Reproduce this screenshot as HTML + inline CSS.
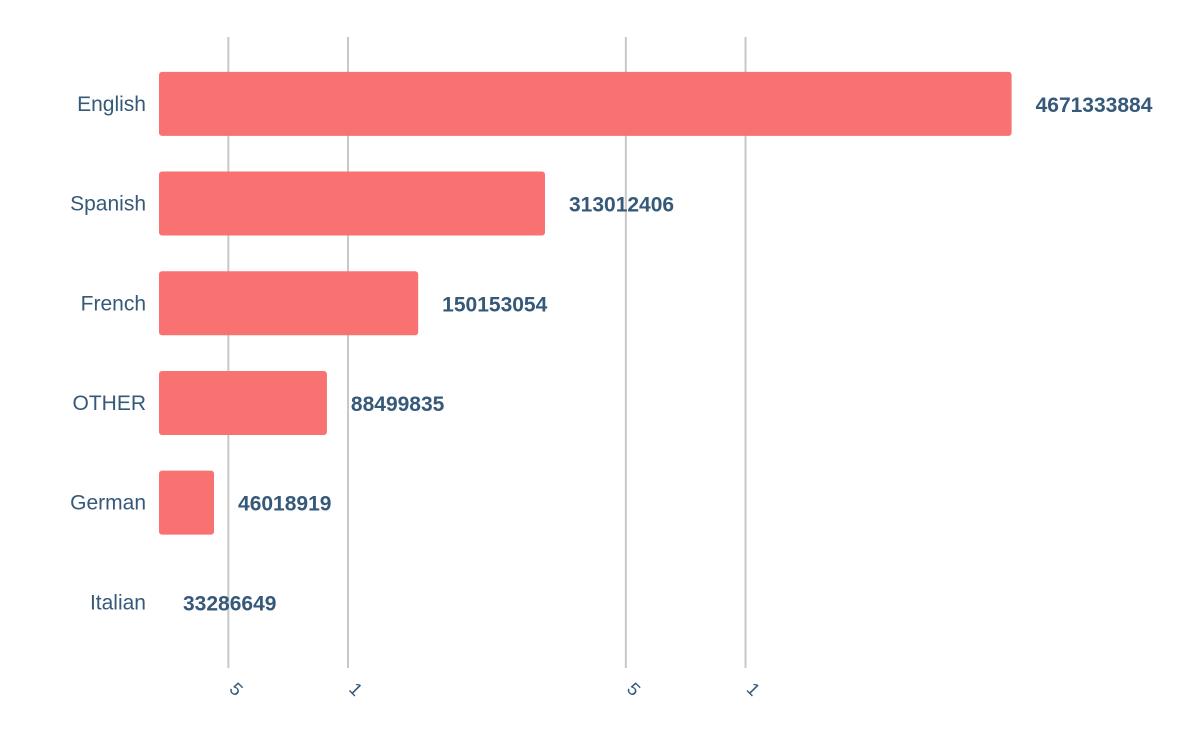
<!DOCTYPE html>
<html><head><meta charset="utf-8"><style>
html,body{margin:0;padding:0;background:#fff;}
svg{display:block;font-family:"Liberation Sans",sans-serif;}
</style></head><body>
<svg id="chart" width="1200" height="742" viewBox="0 0 1200 742"></svg>
<script>
const categories = ["English","Spanish","French","OTHER","German","Italian"];
const values = [4671333884,313012406,150153054,88499835,46018919,33286649];
const tickValues = [5e7,1e8,5e8,1e9];
const tickLabels = ["5","1","5","1"];

const svg = document.getElementById('chart');
const NS = 'http://www.w3.org/2000/svg';
const x0 = 159, pxPerDecade = 397.5, refX = 348;
const minV = Math.min(...values);
function xScale(v){ return refX + pxPerDecade*(Math.log10(v)-8); }
function xPos(v){ return Math.max(x0, xScale(v)); }
const bandTop = 54, band = 99.7, barH = 64;
function yCenter(i){ return bandTop + band*i + band/2; }
function mk(tag, attrs){ const e=document.createElementNS(NS,tag); for(const k in attrs) e.setAttribute(k,attrs[k]); svg.appendChild(e); return e; }

tickValues.forEach((t,i)=>{
  const x = xScale(t);
  const l = mk('line',{x1:x,x2:x,y1:37,y2:668,stroke:'#c8c8c8','stroke-width':2});
  
  
  const tx = mk('text',{x:x,y:690,fill:'#36597a','font-size':18,transform:`rotate(45 ${x} 690)`,'text-anchor':'start'});
  tx.textContent = tickLabels[i];
  
  
});

categories.forEach((c,i)=>{
  const cy = yCenter(i);
  const xe = xPos(values[i]);
  const lab = mk('text',{x:146,y:cy+7,fill:'#36597a','font-size':21,'text-anchor':'end'});
  lab.textContent = c;
  
  
  if (xe - x0 > 0.5){
    const r = mk('rect',{x:x0,y:cy-barH/2,width:xe-x0,height:barH,rx:3,fill:'#f87272'});
    
    
  }
  const v = mk('text',{x:xe+24,y:cy+8,fill:'#36597a','font-size':21,'font-weight':'bold'});
  v.textContent = values[i];
  
  
});
</script>
</body></html>
